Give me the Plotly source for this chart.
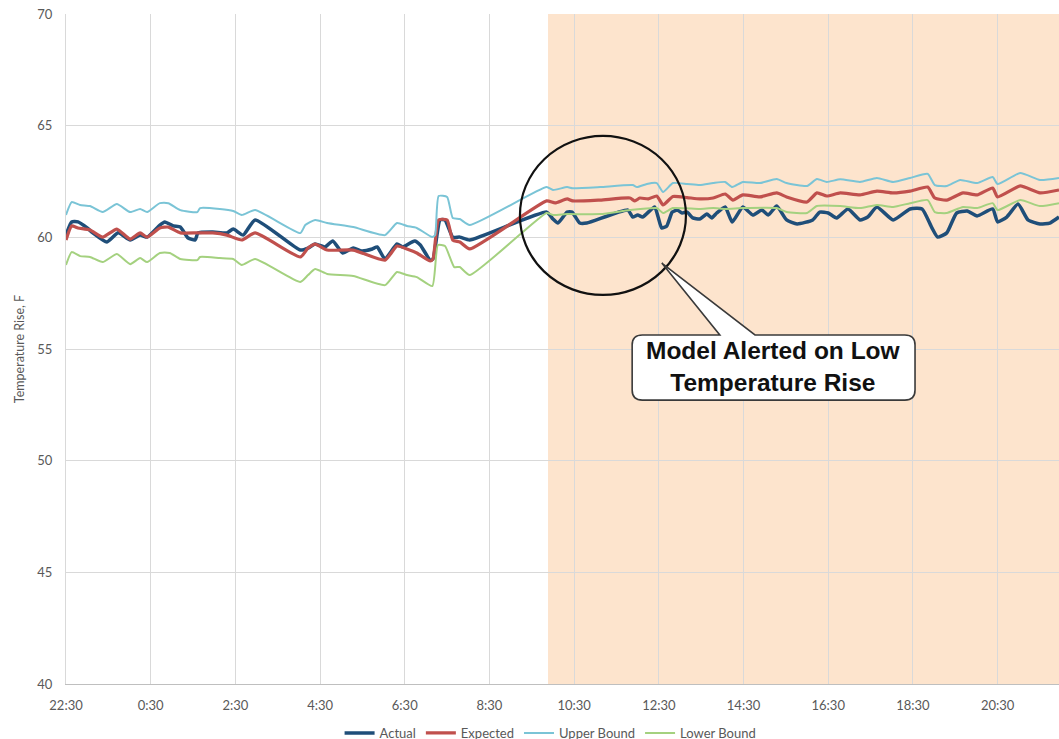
import plotly.graph_objects as go

# ---------------- data ----------------
tick_labels = ["22:30", "0:30", "2:30", "4:30", "6:30", "8:30", "10:30",
               "12:30", "14:30", "16:30", "18:30", "20:30"]

actual_t = ["22:30","22:38","22:47","23:00","23:08","23:28","23:44","0:01","0:15","0:25",
            "0:43","0:50","1:02","1:12","1:23","1:33","1:37","1:58","2:18","2:27","2:41",
            "2:58","4:02","4:13","4:23","4:37","4:48","5:02","5:17","5:29","5:44","5:51",
            "6:02","6:19","6:27","6:44","6:52","7:06","7:10","7:20","7:27","7:38","7:48",
            "8:02","9:51","10:00","10:07","10:20","10:27","10:38","10:48","11:46","11:53",
            "12:00","12:07","12:24","12:29","12:34","12:41","12:49","12:56","13:03","13:10",
            "13:18","13:28","13:38","13:45","13:52","14:04","14:14","14:29","14:43","14:56",
            "15:05","15:17","15:31","15:46","16:08","16:18","16:30","16:42","16:58","17:15",
            "17:26","17:39","18:02","18:26","18:43","18:57","19:05","19:18","19:32","19:47",
            "20:01","20:23","20:30","20:43","20:59","21:13","21:30","21:44","21:57"]
actual_v = [60.1,60.69,60.69,60.42,60.2,59.79,60.2,59.88,60.1,60.01,
            60.55,60.69,60.51,60.46,59.97,59.88,60.2,60.24,60.2,60.37,60.1,
            60.78,59.43,59.52,59.7,59.57,59.84,59.3,59.52,59.39,59.48,59.57,
            59.03,59.7,59.57,59.84,59.66,58.98,59.03,60.78,60.78,60.01,60.01,
            59.88,61.13,60.82,60.64,61.13,61.13,60.64,60.64,61.22,60.91,
            61.0,60.91,61.36,60.91,60.42,60.5,61.13,61.22,61.09,61.13,
            60.87,60.82,61.04,60.87,61.09,61.36,60.69,61.36,61.0,61.22,
            61.0,61.4,60.78,60.6,60.78,61.13,61.09,60.87,61.27,60.78,
            60.91,61.36,60.78,61.27,61.27,60.42,60.01,60.2,61.09,61.18,
            60.96,61.27,60.69,60.91,61.49,60.78,60.6,60.64,60.91]

expected_t = ["22:30","22:38","22:47","23:04","23:22","23:42","0:01","0:15","0:25","0:43",
              "0:55","1:12","1:36","1:58","2:18","2:39","2:58","4:02","4:13","4:23","4:40",
              "5:17","6:02","6:19","6:33","6:47","7:06","7:10","7:18","7:30","7:38","7:48",
              "8:02","9:51","10:03","10:20","10:28","11:07","11:49","11:56","12:03","12:15",
              "12:27","12:36","12:50","13:10","13:28","13:47","14:04","14:15","14:29","14:53",
              "15:17","15:31","16:00","16:14","16:28","16:47","17:15","17:39","18:02","18:26",
              "18:51","19:01","19:18","19:41","20:01","20:23","20:30","21:02","21:30","21:57"]
expected_v = [59.88,60.51,60.42,60.33,60.01,60.37,59.92,60.2,60.01,60.42,
              60.46,60.2,60.2,60.2,60.1,59.88,60.2,59.12,59.52,59.7,59.43,
              59.43,58.98,59.61,59.48,59.3,58.94,59.03,60.78,60.78,59.88,59.79,
              59.48,61.63,61.54,61.72,61.63,61.67,61.76,61.63,61.76,61.72,
              61.85,61.45,61.83,61.78,61.72,61.76,61.94,61.67,61.9,61.81,
              61.99,61.81,61.58,61.99,61.85,61.99,61.9,62.07,61.99,62.07,
              62.25,61.76,61.67,61.99,61.9,62.21,61.81,62.3,61.99,62.12]

upper_t = ["22:30","22:38","22:50","23:04","23:22","23:42","0:01","0:15","0:25","0:43",
           "0:55","1:12","1:36","1:40","2:08","2:27","2:39","2:58","4:02","4:09","4:23",
           "4:40","5:17","6:02","6:19","6:33","6:47","7:09","7:13","7:18","7:30","7:38",
           "7:48","8:02","9:51","10:00","10:20","10:28","11:07","11:53","11:59","12:13",
           "12:27","12:36","12:50","13:10","13:28","13:47","14:04","14:14","14:29","14:53",
           "15:17","15:31","16:00","16:14","16:28","16:47","17:15","17:39","18:02","18:26",
           "18:51","19:01","19:18","19:37","20:01","20:23","20:30","21:02","21:30","21:57"]
upper_v = [61.0,61.58,61.45,61.4,61.13,61.49,61.13,61.27,61.13,61.53,
           61.53,61.22,61.13,61.31,61.27,61.18,61.0,61.22,60.19,60.55,60.78,
           60.64,60.46,60.1,60.64,60.51,60.42,60.01,60.1,61.85,61.81,60.87,
           60.82,60.55,62.25,62.12,62.25,62.2,62.25,62.34,62.25,62.39,
           62.43,62.03,62.43,62.39,62.34,62.43,62.48,62.25,62.48,62.43,
           62.61,62.43,62.3,62.61,62.48,62.6,62.48,62.66,62.48,62.66,
           62.84,62.34,62.3,62.57,62.43,62.7,62.39,62.88,62.57,62.66]

lower_t = ["22:30","22:38","22:50","23:04","23:22","23:42","0:01","0:15","0:25","0:43",
           "0:57","1:12","1:36","1:40","2:08","2:27","2:39","2:58","4:02","4:13","4:23",
           "4:40","5:17","6:02","6:19","6:33","6:47","7:09","7:17","7:27","7:40","7:48",
           "8:02","9:51","10:00","10:20","11:07","11:49","12:27","12:36","12:50","13:28",
           "13:47","14:04","14:29","15:17","15:31","16:00","16:14","16:47","17:15","17:39",
           "18:02","18:26","18:51","19:01","19:18","19:41","20:01","20:23","20:30","21:02",
           "21:30","21:57"]
lower_v = [58.76,59.34,59.16,59.12,58.89,59.25,58.8,59.07,58.89,59.3,
           59.3,59.03,58.98,59.12,59.07,59.03,58.76,59.03,58.0,58.31,58.58,
           58.36,58.27,57.86,58.45,58.31,58.22,57.82,59.66,59.61,58.67,58.67,
           58.31,61.09,61.0,61.04,61.04,61.22,61.31,61.09,61.31,61.27,
           61.31,61.27,61.31,61.31,61.13,61.09,61.4,61.4,61.31,61.45,
           61.36,61.53,61.67,61.13,61.09,61.36,61.31,61.53,61.22,61.67,
           61.4,61.53]

alert_start = "9:53"          # start of shaded alert period
START_HOUR = 22.5             # chart starts at 22:30


def to_hours(s):
    h, m = s.split(":")
    v = int(h) + int(m) / 60.0
    return v - START_HOUR if v >= START_HOUR else v + 24 - START_HOUR


series = [
    ("Actual", actual_t, actual_v, "#1F4E79", 3.5),
    ("Expected", expected_t, expected_v, "#C0504D", 3.2),
    ("Upper Bound", upper_t, upper_v, "#7AC4D6", 2),
    ("Lower Bound", lower_t, lower_v, "#A4D17F", 2),
]

fig = go.Figure()
for name, t, v, color, w in series:
    fig.add_trace(go.Scatter(
        x=[to_hours(s) for s in t], y=v, name=name, mode="lines",
        line=dict(color=color, width=w, shape="spline", smoothing=0.5),
    ))

tick_vals = [to_hours(s) for s in tick_labels]
tick_vals[0] = 0.0

# shaded alert period
fig.add_shape(type="rect", xref="x", yref="paper", x0=to_hours(alert_start), x1=24,
              y0=0, y1=1, fillcolor="#FDE4CD", line=dict(width=0), layer="below")

# circle around the alert start
fig.add_shape(type="circle", xref="x", yref="y", x0=10.72, x1=14.64, y0=57.42, y1=64.54,
              line=dict(color="#111111", width=2.2), fillcolor="rgba(0,0,0,0)")

# callout box with pointer (rounded corners)
bx0, bx1, by0, by1 = 13.37, 20.05, 52.71, 55.63
rx, ry = 0.24, 0.45
tipx, tipy = 14.07, 58.85
p1, p2 = 15.44, 16.27
path = (f"M{bx0+rx},{by1} L{p1},{by1} L{tipx},{tipy} L{p2},{by1} L{bx1-rx},{by1} "
        f"Q{bx1},{by1} {bx1},{by1-ry} L{bx1},{by0+ry} Q{bx1},{by0} {bx1-rx},{by0} "
        f"L{bx0+rx},{by0} Q{bx0},{by0} {bx0},{by0+ry} L{bx0},{by1-ry} Q{bx0},{by1} {bx0+rx},{by1} Z")
fig.add_shape(type="path", xref="x", yref="y", path=path, fillcolor="white",
              line=dict(color="#3A3A3A", width=1.6))
fig.add_annotation(x=(bx0 + bx1) / 2, y=(by0 + by1) / 2 + 0.05, xref="x", yref="y",
                   text="<b>Model Alerted on Low<br>Temperature Rise</b>", showarrow=False,
                   font=dict(family="Liberation Sans, Arial", size=24.5, color="#111111"))

fig.update_layout(
    width=1059, height=760,
    margin=dict(l=66, r=0, t=14, b=76),
    paper_bgcolor="white", plot_bgcolor="white",
    font=dict(family="Lato, Open Sans, sans-serif", color="#595959", size=13),
    showlegend=True,
    legend=dict(orientation="h", x=0.488, xanchor="center", y=-0.0731, yanchor="middle",
                font=dict(size=13, color="#595959"), itemwidth=30, tracegroupgap=0),
)
fig.update_xaxes(range=[0, 23.45], tickmode="array", tickvals=tick_vals, ticktext=tick_labels,
                 showgrid=True, gridcolor="#D9D9D9", gridwidth=1, zeroline=False,
                 showline=True, linecolor="#BFBFBF", linewidth=1, ticks="",
                 ticklabelstandoff=9, tickfont=dict(size=13, color="#595959"),
                 ticklabeloverflow="allow")
fig.update_yaxes(range=[40, 70], dtick=5, showgrid=True, gridcolor="#D9D9D9", gridwidth=1,
                 zeroline=False, showline=True, linecolor="#D9D9D9", ticks="",
                 ticklabelstandoff=10, tickfont=dict(size=13, color="#595959"),
                 ticklabeloverflow="allow",
                 title=dict(text="Temperature Rise, F", font=dict(size=12.5, color="#595959"),
                            standoff=9))

# page shows the top-left 1059x739 of the figure, like the cropped original
fig.write_html("out.html", config={"displayModeBar": False},
               post_script="document.body.style.margin='0';document.body.style.overflow='hidden';")
